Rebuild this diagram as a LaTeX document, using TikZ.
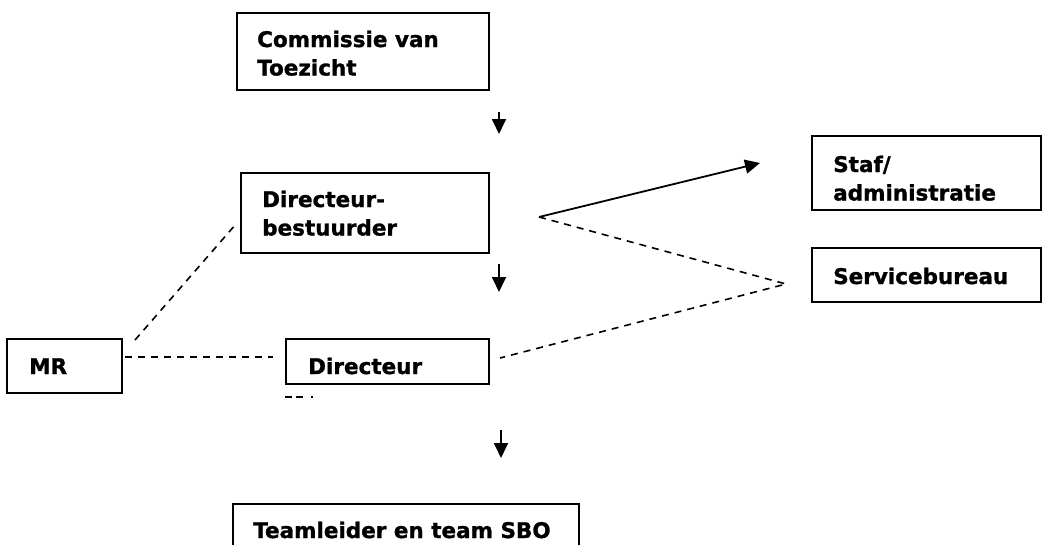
\documentclass[tikz,border=0pt]{standalone}
\usepackage{fontspec}
\setmainfont{DejaVu Sans}[BoldFeatures={FakeBold=1.2}]
\usetikzlibrary{arrows.meta}
\begin{document}
\begin{tikzpicture}[x=1pt,y=-1pt,
  box/.style={draw=black,line width=2pt,rectangle,inner sep=0pt},
  lbl/.style={anchor=base west,inner sep=0pt,align=left,font=\fontsize{21.5}{28.5}\selectfont\bfseries},
  dsh/.style={line width=1.6pt,dash pattern=on 7pt off 6pt},
  arr/.style={line width=1.8pt,-{Triangle[length=15pt,width=14pt]}}]
\useasboundingbox (0,0) rectangle (1042,544);
\clip (0,0) rectangle (1042,544);
% boxes
\draw[box] (237,13) rectangle (489,90);
\draw[box] (241,173) rectangle (489,253);
\draw[box] (812,136) rectangle (1041,210);
\draw[box] (812,248) rectangle (1041,302);
\draw[box] (7,339) rectangle (122,393);
\draw[box] (286,339) rectangle (489,384);
\draw[box] (233,504) rectangle (579,560);
% labels (base anchor = baseline of last line)
\node[lbl] (cvt) at (257,75.5) {Commissie van\\Toezicht};
\node[lbl] (db) at (262,235.5) {Directeur-\\bestuurder};
\node[lbl] (staf) at (833,200.5) {Staf/\\administratie};
\node[lbl] (sb) at (833,284) {Servicebureau};
\node[lbl] (mr) at (29,374) {MR};
\node[lbl] (dir) at (308,374) {Directeur};
\node[lbl] (team) at (253,538) {Teamleider en team SBO};
% connector points
\coordinate (a1s) at (499,112); \coordinate (a1e) at (499,134);
\coordinate (a2s) at (499,264); \coordinate (a2e) at (499,292);
\coordinate (a3s) at (501,430); \coordinate (a3e) at (501,458);
\coordinate (fork) at (539,217);
\coordinate (stafpt) at (760,163);
\coordinate (sbpt) at (786,284);
\coordinate (dirpt) at (500,358);
\coordinate (mrr) at (125,357);
\coordinate (dirl) at (273,357);
\coordinate (mrt) at (135,340);
\coordinate (dbl) at (236,224);
\coordinate (s1) at (285,397);
\coordinate (s2) at (316,397);
% arrows
\draw[arr] (a1s) -- (a1e);
\draw[arr] (a2s) -- (a2e);
\draw[arr] (a3s) -- (a3e);
\draw[arr] (fork) -- (stafpt);
% dashed
\draw[dsh] (fork) -- (sbpt) -- (dirpt);
\draw[dsh] (mrr) -- (dirl);
\draw[dsh] (mrt) -- (dbl);
\draw[line width=1.6pt,dash pattern=on 7pt off 4pt on 7pt off 8pt on 2pt off 20pt] (s1) -- (s2);
\end{tikzpicture}
\end{document}
